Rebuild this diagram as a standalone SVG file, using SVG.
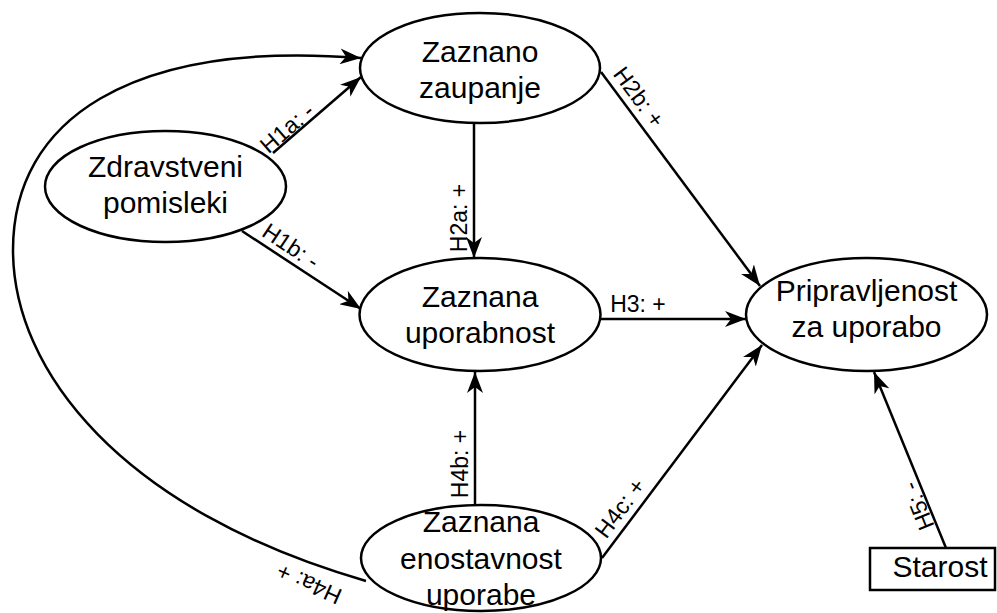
<svg xmlns="http://www.w3.org/2000/svg" width="997" height="613" viewBox="0 0 997 613">
<style>
.node{fill:#fff;stroke:#000;stroke-width:2.5}
.t{font-family:"Liberation Sans",Arial,sans-serif;font-size:30px;fill:#000;text-anchor:middle}
.lbl{font-family:"Liberation Sans",Arial,sans-serif;font-size:23px;fill:#000;text-anchor:middle}
.c{fill:none;stroke:#000;stroke-width:2.5}
</style>
<defs>
<marker id="arr" markerUnits="userSpaceOnUse" markerWidth="22" markerHeight="16" refX="21" refY="8" orient="auto" viewBox="0 0 22 16">
<path d="M0,0 L21,8 L0,16 L6,8 z" fill="#000"/>
</marker>
</defs>
<rect width="997" height="613" fill="#fff"/>
<g id="connectors">
<path class="c" marker-end="url(#arr)" d="M273,153 L361,77"/>
<path class="c" marker-end="url(#arr)" d="M242,231 L361,309"/>
<path class="c" marker-end="url(#arr)" d="M474,123 L474,258"/>
<path class="c" marker-end="url(#arr)" d="M601,72 L760,286"/>
<path class="c" marker-end="url(#arr)" d="M600,319 L746,319"/>
<path class="c" marker-end="url(#arr)" d="M602,558 L762,345"/>
<path class="c" marker-end="url(#arr)" d="M475,505 L475,372"/>
<path class="c" marker-end="url(#arr)" d="M946,548 L874,372"/>
<path class="c" marker-end="url(#arr)" d="M366,581 C120,510 13,370 13,250 C13,120 130,40 361,58"/>
<text class="lbl" transform="translate(287,128) rotate(-41)" x="0" y="8">H1a: -</text>
<text class="lbl" transform="translate(291,246) rotate(33.7)" x="0" y="8">H1b: -</text>
<text class="lbl" transform="translate(459,218) rotate(-90)" x="0" y="8">H2a: +</text>
<text class="lbl" transform="translate(639,97) rotate(53.5)" x="0" y="8">H2b: +</text>
<text class="lbl" x="638" y="312">H3: +</text>
<text class="lbl" transform="translate(460,464) rotate(-90)" x="0" y="8">H4b: +</text>
<text class="lbl" transform="translate(620,508) rotate(-53.1)" x="0" y="8">H4c: +</text>
<text class="lbl" transform="translate(918,506) rotate(-112)" x="0" y="8">H5: -</text>
<text class="lbl" transform="translate(309,584) rotate(-156)" x="0" y="8">H4a: +</text>
</g>
<g id="zaupanje">
<ellipse class="node" cx="480" cy="68" rx="120" ry="55"/>
<text class="t" x="480" y="62">Zaznano</text>
<text class="t" x="480" y="98">zaupanje</text>
</g>
<g id="pomisleki">
<ellipse class="node" cx="165.5" cy="186.5" rx="120.5" ry="55.5"/>
<text class="t" x="165.5" y="177">Zdravstveni</text>
<text class="t" x="165.5" y="213">pomisleki</text>
</g>
<g id="uporabnost">
<ellipse class="node" cx="480" cy="314.5" rx="120.5" ry="56.5"/>
<text class="t" x="480" y="307">Zaznana</text>
<text class="t" x="480" y="343">uporabnost</text>
</g>
<g id="pripravljenost">
<ellipse class="node" cx="866.5" cy="314.5" rx="120.5" ry="56.5"/>
<text class="t" x="866.5" y="301">Pripravljenost</text>
<text class="t" x="866.5" y="337">za uporabo</text>
</g>
<g id="enostavnost">
<ellipse class="node" cx="481" cy="558" rx="120" ry="53"/>
<text class="t" x="481" y="532">Zaznana</text>
<text class="t" x="481" y="569">enostavnost</text>
<text class="t" x="481" y="605">uporabe</text>
</g>
<g id="starost">
<rect class="node" x="870" y="548" width="125" height="42"/>
<text class="t" x="940" y="577">Starost</text>
</g>
</svg>
